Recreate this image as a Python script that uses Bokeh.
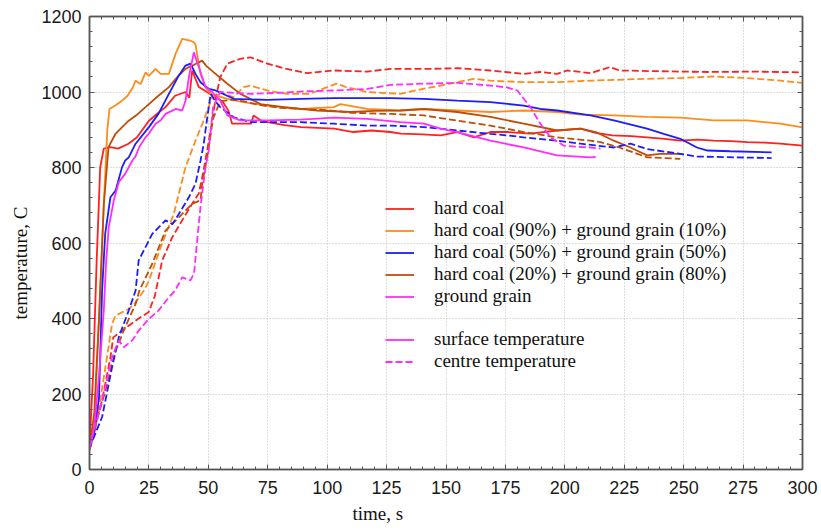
from bokeh.plotting import figure
from bokeh.models import (Range1d, SingleIntervalTicker, LinearAxis, Legend,
                          LegendItem, Title, CustomLabelingPolicy)
from bokeh.embed import file_html
from bokeh.resources import INLINE

# ---------------- data (time in s, temperature in C) ----------------
x_ticks_interval = 25
y_ticks_interval = 200

hc_surf_t = [0, 1.5, 3, 4.5, 6, 8.8, 12, 16.4, 20, 25, 29, 32, 36, 40.4, 42, 43.2, 46, 52, 56, 58.5, 60,
             64, 68, 69, 72, 75, 82, 89, 96, 103, 111, 118.6, 126.6, 131, 140, 147.7, 154.7, 161.7,
             168.7, 175.7, 185.5, 196.8, 206.6, 213, 220, 228, 234.6, 242, 248.6, 256, 262.6, 270,
             276.7, 284, 290.7, 300]
hc_surf_T = [60, 250, 550, 800, 850, 854, 850, 863, 880, 924, 945, 960, 990, 1000, 985, 1057, 1013, 990, 975, 950, 916,
             916, 916, 938, 925, 920, 912, 907, 905, 903, 894, 898, 894, 890, 888, 885, 894, 880,
             894, 894, 890, 898, 903, 892, 885, 883, 880, 876, 871, 874, 871, 870,
             867, 866, 863, 858]

hc_cent_t = [0, 2.5, 5.3, 8.8, 10, 12.2, 16.5, 20.7, 24.9, 27.5, 30.6, 34.8, 39, 43.2, 46, 48, 49.5, 51, 53,
             55, 58, 63.5, 67.7, 74.8, 83, 91.6, 102.8, 116.8, 126.6, 140.7, 154.7, 168.7, 182.7,
             189.7, 196.8, 201, 210.8, 219, 223, 240, 260, 280, 300]
hc_cent_T = [60, 120, 183, 297, 350, 360, 381, 400, 417, 460, 554, 615, 660, 704, 731, 792, 845, 900, 980,
             1039, 1075, 1088, 1092, 1075, 1061, 1050, 1057, 1054, 1061, 1061, 1063, 1057, 1048,
             1053, 1048, 1057, 1050, 1066, 1057, 1055, 1053, 1054, 1052]

o_surf_t = [0, 2, 4, 6, 7.5, 8.4, 11, 13.7, 16, 18, 19.4, 21.5, 23.6, 25, 27.8, 29.9, 33.4, 36.2, 39,
            41.8, 43.9, 44.6, 46.7, 48.8, 51, 58, 64.8, 74.8, 88.8, 102.8, 105.6, 116.8, 130.8,
            140.7, 154.7, 168.7, 182.7, 196.8, 206.6, 220.6, 234.6, 248.6, 262.6, 276.7, 290.7, 300]
o_surf_T = [50, 120, 400, 700, 900, 955, 965, 977, 990, 1009, 1030, 1021, 1052, 1043, 1061, 1048, 1048, 1101, 1141,
            1137, 1132, 1126, 1048, 1013, 995, 982, 973, 964, 955, 960, 968, 955, 951,
            955, 951, 947, 951, 947, 940, 938, 934, 932, 925, 925, 916, 906]

o_cent_t = [0, 2.5, 6.7, 9.5, 11, 16.5, 19.4, 22.9, 25, 30, 35.5, 40.4, 44.6, 48, 51.6, 55, 60.6,
            64.8, 67.6, 74.8, 83, 92.7, 100, 104, 108, 116.8, 130.8, 140.7, 147.7, 154.7, 161.6,
            168.7, 182.7, 196.8, 210.8, 234.6, 248.6, 262.6, 276.7, 290.7, 300]
o_cent_T = [50, 103, 271, 386, 408, 425, 443, 474, 500, 590, 678, 801, 871, 924, 986, 1000, 986,
            1013, 1017, 1004, 995, 995, 1013, 1022, 1013, 1000, 995, 1009, 1017, 1026, 1035,
            1030, 1026, 1026, 1030, 1035, 1037, 1041, 1037, 1030, 1024]

bl_surf_t = [0, 2, 4, 5.3, 6.6, 8.8, 11, 13.7, 15, 16.5, 19.4, 25, 29, 33.4, 37.6, 40.4, 42.5, 44.6,
             46.7, 50.2, 53, 60.7, 74.8, 88.8, 102.8, 116.8, 126.6, 140.7, 154.7, 168.7, 182.7,
             189.7, 196.8, 210.8, 220.6, 234.6, 241.6, 248.6, 255.6, 260, 269.6, 287]
bl_surf_T = [55, 100, 190, 474, 624, 721, 739, 801, 818, 827, 863, 907, 942, 995, 1044, 1070, 1075, 1048,
             1026, 1008, 1004, 982, 979, 982, 984, 984, 984, 982, 977, 973, 964,
             955, 951, 938, 925, 903, 889, 876, 853, 845, 843, 840]

bl_cent_t = [0, 0.7, 5.3, 9.5, 12.3, 16.5, 19.4, 20.7, 26.4, 32, 34.9, 37.6, 41.8, 44.6, 46.7, 48,
             49.5, 51, 53, 55, 60.7, 67.7, 74.8, 88.8, 102.8, 116.8, 126.6, 140.7, 154.7, 168.7,
             175.7, 182.7, 196.8, 206.6, 220.6, 227.6, 234.6, 248.6, 255.6, 287]
bl_cent_T = [55, 68, 139, 271, 350, 421, 474, 554, 624, 660, 650, 677, 721, 757, 818, 860,
             930, 995, 975, 960, 933, 920, 920, 920, 916, 911, 911, 907, 898, 889,
             885, 880, 871, 863, 853, 863, 849, 836, 829, 825]

b_surf_t = [0, 2, 4, 6, 8, 11, 16.5, 20, 25, 29, 33.4, 37, 40.4, 41.8, 44, 47.4, 49, 52.3, 58, 63.5,
            72, 81.7, 95.8, 109.8, 120, 130.8, 140.7, 154.7, 168.7, 182.7, 196.8, 206.6, 213,
            220.6, 227.6, 234.6, 240, 249]
b_surf_T = [55, 150, 400, 700, 854, 890, 924, 940, 968, 990, 1013, 1040, 1061, 1066, 1072, 1083, 1070, 1052, 1022, 995,
            968, 960, 951, 947, 950, 951, 955, 947, 934, 916, 898, 903, 894,
            871, 853, 832, 836, 836]

b_cent_t = [0, 1.1, 6.7, 11, 15, 19.4, 21, 26.4, 32, 37.6, 40.4, 43.2, 46.7, 47.4, 49.5, 52, 55, 60,
            65, 72, 80, 90, 100, 110, 126.6, 140.7, 154.7, 168.7, 182.7, 196.8, 210.8, 215, 223,
            234.6, 248.6]
b_cent_T = [55, 86, 209, 315, 377, 439, 474, 545, 633, 668, 686, 704, 713, 757, 827, 930, 975, 980,
            975, 965, 958, 955, 952, 945, 942, 938, 924, 911, 894, 880, 871, 867, 853,
            827, 823]

m_surf_t = [0, 2, 4, 6, 7, 8.1, 10.2, 12.3, 15, 18, 19.4, 21, 23.6, 25, 27.8, 30, 32, 34, 36.2, 39,
            40.4, 41.8, 43.9, 46, 48.8, 51.6, 55, 58, 63.5, 74.8, 88.8, 102.8, 116.8, 130.8, 140.7,
            147.7, 154.7, 168.7, 182.7, 196.8, 210.8, 213]
m_surf_T = [55, 110, 250, 420, 550, 642, 712, 761, 783, 818, 830, 855, 880, 890, 916, 925, 942, 948, 955, 951,
            977, 1039, 1105, 1066, 1013, 1000, 977, 938, 925, 925, 927, 932, 929, 920, 916,
            903, 894, 871, 853, 832, 827, 828]

m_cent_t = [0, 1.1, 5.3, 9.5, 12.3, 14.4, 18, 20.7, 25, 29, 33.4, 36, 39, 42.5, 44, 45.3, 46.7, 48.8,
            50.2, 52, 55, 60, 67.7, 80, 91.6, 102.8, 116.8, 126.6, 140.7, 154.7, 168.7, 175.7, 180,
            185.5, 189.7, 194, 199.5, 205, 210.8, 215]
m_cent_T = [55, 86, 183, 297, 342, 324, 342, 368, 399, 421, 456, 474, 509, 501, 520, 607, 695, 801,
            845, 960, 1000, 998, 995, 998, 1002, 1004, 1008, 1019, 1022, 1024, 1017, 1012, 1004,
            960, 916, 880, 858, 855, 853, 850]

labels = ["hard coal",
          "hard coal (90%) + ground grain (10%)",
          "hard coal (50%) + ground grain (50%)",
          "hard coal (20%) + ground grain (80%)",
          "ground grain"]
kind_labels = ["surface temperature", "centre temperature"]
x_title = "time, s"
y_title = "temperature, C"

# ---------------- figure ----------------
RED, ORANGE, BLUE, BROWN, MAGENTA = "#ff2020", "#ff8c1a", "#1c1cff", "#bf4d0a", "#ff2cff"
DASH = "7 3"
LW = 1.8

p = figure(width=821, height=530, output_backend="svg", toolbar_location=None,
           x_range=Range1d(0, 300), y_range=Range1d(0, 1200),
           min_border_left=89, min_border_right=19, min_border_top=16, min_border_bottom=61,
           background_fill_color="white", border_fill_color="white")

p.outline_line_color = "#666666"
p.outline_line_width = 1.5

xt = SingleIntervalTicker(interval=x_ticks_interval, num_minor_ticks=5)
yt = SingleIntervalTicker(interval=y_ticks_interval, num_minor_ticks=5)
p.xaxis.ticker = xt
p.yaxis.ticker = yt
p.xgrid.ticker = xt
p.ygrid.ticker = yt
p.grid.grid_line_color = "#bdbdbd"
p.grid.grid_line_dash = "1 2"
p.grid.grid_line_width = 1

for ax in [p.xaxis[0], p.yaxis[0]]:
    ax.axis_line_color = "#555555"
    ax.axis_line_width = 1.5
    ax.major_tick_in = 5
    ax.major_tick_out = 0
    ax.minor_tick_in = 3
    ax.minor_tick_out = 0
    ax.major_tick_line_color = "#555555"
    ax.minor_tick_line_color = "#555555"
    ax.major_label_text_font = "Liberation Sans"
    ax.major_label_text_font_size = "18px"
    ax.major_label_text_color = "#1a1a1a"
p.yaxis.major_label_standoff = 8
p.xaxis.major_label_standoff = 11

hide_all = CustomLabelingPolicy(code="return new Set()")
for loc, tk in [("right", yt), ("above", xt)]:
    ax = LinearAxis(ticker=tk, major_label_policy=hide_all, major_label_standoff=0,
                    major_label_text_font_size="1px",
                    axis_line_color="#555555", axis_line_width=1.5,
                    major_tick_in=5, major_tick_out=0, minor_tick_in=3, minor_tick_out=0,
                    major_tick_line_color="#555555", minor_tick_line_color="#555555")
    p.add_layout(ax, loc)

# ---------------- lines ----------------
r_hc_s = p.line(hc_surf_t, hc_surf_T, line_color=RED, line_width=LW)
r_hc_c = p.line(hc_cent_t, hc_cent_T, line_color=RED, line_width=LW, line_dash=DASH)
r_o_s = p.line(o_surf_t, o_surf_T, line_color=ORANGE, line_width=LW)
r_o_c = p.line(o_cent_t, o_cent_T, line_color=ORANGE, line_width=LW, line_dash=DASH)
r_b_s = p.line(b_surf_t, b_surf_T, line_color=BROWN, line_width=LW)
r_b_c = p.line(b_cent_t, b_cent_T, line_color=BROWN, line_width=LW, line_dash=DASH)
r_bl_s = p.line(bl_surf_t, bl_surf_T, line_color=BLUE, line_width=LW)
r_bl_c = p.line(bl_cent_t, bl_cent_T, line_color=BLUE, line_width=LW, line_dash=DASH)
r_m_s = p.line(m_surf_t, m_surf_T, line_color=MAGENTA, line_width=LW)
r_m_c = p.line(m_cent_t, m_cent_T, line_color=MAGENTA, line_width=LW, line_dash=DASH)
r_blank = p.line(x=[], y=[], line_alpha=0)

items = [LegendItem(label=labels[0], renderers=[r_hc_s]),
         LegendItem(label=labels[1], renderers=[r_o_s]),
         LegendItem(label=labels[2], renderers=[r_bl_s]),
         LegendItem(label=labels[3], renderers=[r_b_s]),
         LegendItem(label=labels[4], renderers=[r_m_s]),
         LegendItem(label=" ", renderers=[r_blank]),
         LegendItem(label=kind_labels[0], renderers=[r_m_s]),
         LegendItem(label=kind_labels[1], renderers=[r_m_c])]
legend = Legend(items=items, location=(296, 97), border_line_alpha=0,
                background_fill_alpha=0, padding=0, margin=0, spacing=0,
                label_height=21, glyph_height=21, glyph_width=29, label_standoff=20,
                label_text_font="Liberation Serif", label_text_font_size="19px",
                label_text_color="#111111")
p.add_layout(legend)

p.add_layout(Title(text=x_title, align="left", offset=263, standoff=9,
                   text_font="Liberation Serif", text_font_size="19px",
                   text_font_style="normal", text_color="#111111"), "below")
p.add_layout(Title(text=y_title, align="left", offset=150, standoff=15,
                   text_font="Liberation Serif", text_font_size="19px",
                   text_font_style="normal", text_color="#111111"), "left")

open("out.html", "w").write(file_html(p, INLINE))
